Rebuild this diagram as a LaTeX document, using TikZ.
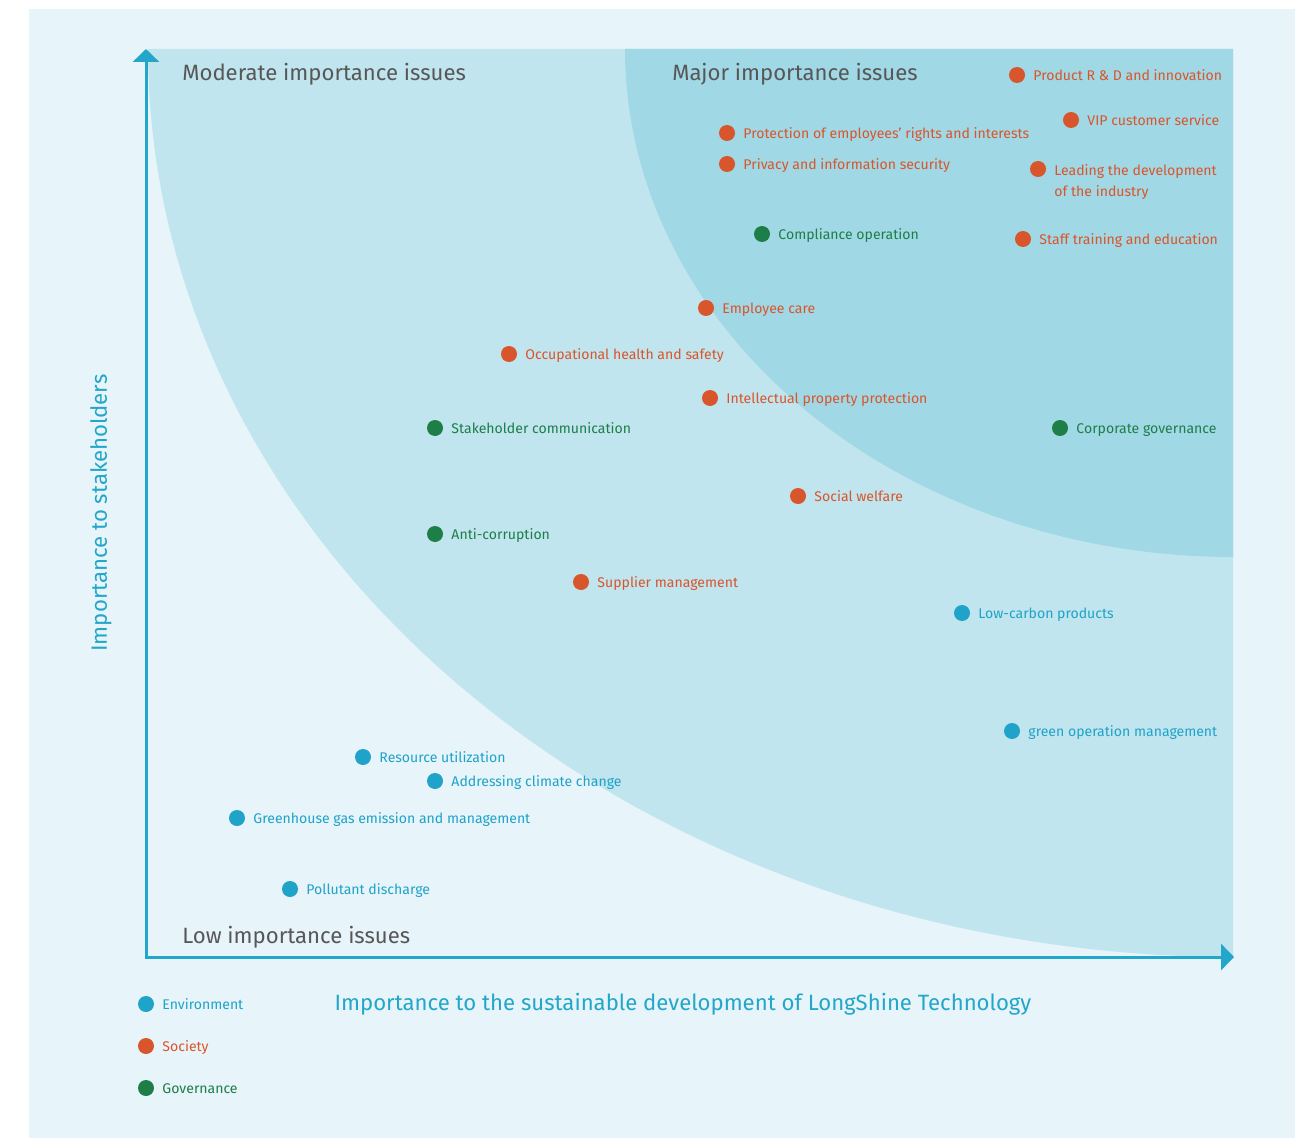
\documentclass[tikz,border=0pt]{standalone}
\usepackage{fontspec}
\setmainfont{Fira Sans}
\usetikzlibrary{positioning,arrows.meta}
\definecolor{bgfill}{HTML}{E7F4F9}
\definecolor{midfill}{HTML}{C0E5EE}
\definecolor{majfill}{HTML}{A1D8E5}
\definecolor{axisblue}{HTML}{22A6C9}
\definecolor{envc}{HTML}{1FA3C8}
\definecolor{socc}{HTML}{D9552B}
\definecolor{govc}{HTML}{1E7E48}
\colorlet{headc}{black!66}

\begin{document}
\begin{tikzpicture}[x=0.02cm,y=-0.02cm,
    dot/.style={circle,fill=#1,inner sep=0pt,minimum size=0.32cm},
    lbl/.style={text=#1,font=\fontsize{8}{12}\selectfont,inner sep=1pt},
    one/.style={text height=1.5ex,text depth=.35ex},
    head/.style={text=headc,font=\fontsize{12.6}{14}\selectfont,inner sep=0pt,anchor=west},
    axlbl/.style={text=axisblue,font=\fontsize{12.6}{14}\selectfont,inner sep=0pt}]
    \useasboundingbox (0,0) rectangle (1300,1138);
    \fill[white] (0,0) rectangle (1300,1138);
    \fill[bgfill] (29,9) rectangle (1295,1138);

    % issue zones
    \fill[midfill] (148,49) -- (1233,49) -- (1233,957)
        -- plot[domain=90:180,samples=90] ({1233+1085*cos(\x)},{49+908*sin(\x)}) -- cycle;
    \fill[majfill] (625,49) -- (1233,49) -- (1233,557)
        -- plot[domain=90:180,samples=90] ({1233+608*cos(\x)},{49+508*sin(\x)}) -- cycle;

    % axes
    \coordinate (o) at (146,957);
    \coordinate (ytop) at (146,49);
    \coordinate (xend) at (1234,957);
    \draw[axisblue,line width=0.06cm,-{Triangle[length=0.26cm,width=0.52cm]}] ([yshift=-0.03cm]o) -- (ytop);
    \draw[axisblue,line width=0.06cm,-{Triangle[length=0.26cm,width=0.52cm]}] (o) -- (xend);

    \node[head] (h-mod) at (182,74) {Moderate importance issues};
    \node[head] (h-maj) at (672,74) {Major importance issues};
    \node[head] (h-low) at (182,937) {Low importance issues};

    \node[axlbl,rotate=90] (ylab) at (101,513) {Importance to stakeholders};
    \node[axlbl] (xlab) at (683,1004) {Importance to the sustainable development of LongShine Technology};

    % issues
    \foreach \n/\px/\py/\c/\txt in {
        prd/1017/75/socc/{Product R \& D and innovation},
        vip/1071/120/socc/{VIP customer service},
        rights/727/133/socc/{Protection of employees’ rights and interests},
        privacy/727/164/socc/{Privacy and information security},
        compl/762/234/govc/{Compliance operation},
        staff/1023/239/socc/{Staff training and education},
        care/706/308/socc/{Employee care},
        health/509/354/socc/{Occupational health and safety},
        ipp/710/398/socc/{Intellectual property protection},
        stake/435/428/govc/{Stakeholder communication},
        corpgov/1060/428/govc/{Corporate governance},
        welfare/798/496/socc/{Social welfare},
        anticorr/435/534/govc/{Anti-corruption},
        supplier/581/582/socc/{Supplier management},
        lowcarb/962/613/envc/{Low-carbon products},
        greenop/1012/731/envc/{green operation management},
        resource/363/757/envc/{Resource utilization},
        climate/435/781/envc/{Addressing climate change},
        ghg/237/818/envc/{Greenhouse gas emission and management},
        pollut/290/889/envc/{Pollutant discharge}} {
        \node[dot=\c] (d-\n) at (\px,\py) {};
        \node[lbl=\c,one,right=0.12cm of d-\n] (t-\n) {\txt};
    }
    \node[dot=socc] (d-lead) at (1038,169) {};
    \node[lbl=socc,align=left,anchor=north west] (t-lead) at ([xshift=0.12cm,yshift=0.14cm]d-lead.east)
        {Leading the development\\of the industry};

    % legend
    \foreach \n/\py/\c/\txt in {env/1004/envc/Environment,soc/1046/socc/Society,gov/1088/govc/Governance} {
        \node[dot=\c] (k-\n) at (146,\py) {};
        \node[lbl=\c,one,right=0.12cm of k-\n] (kt-\n) {\txt};
    }
\end{tikzpicture}
\end{document}
